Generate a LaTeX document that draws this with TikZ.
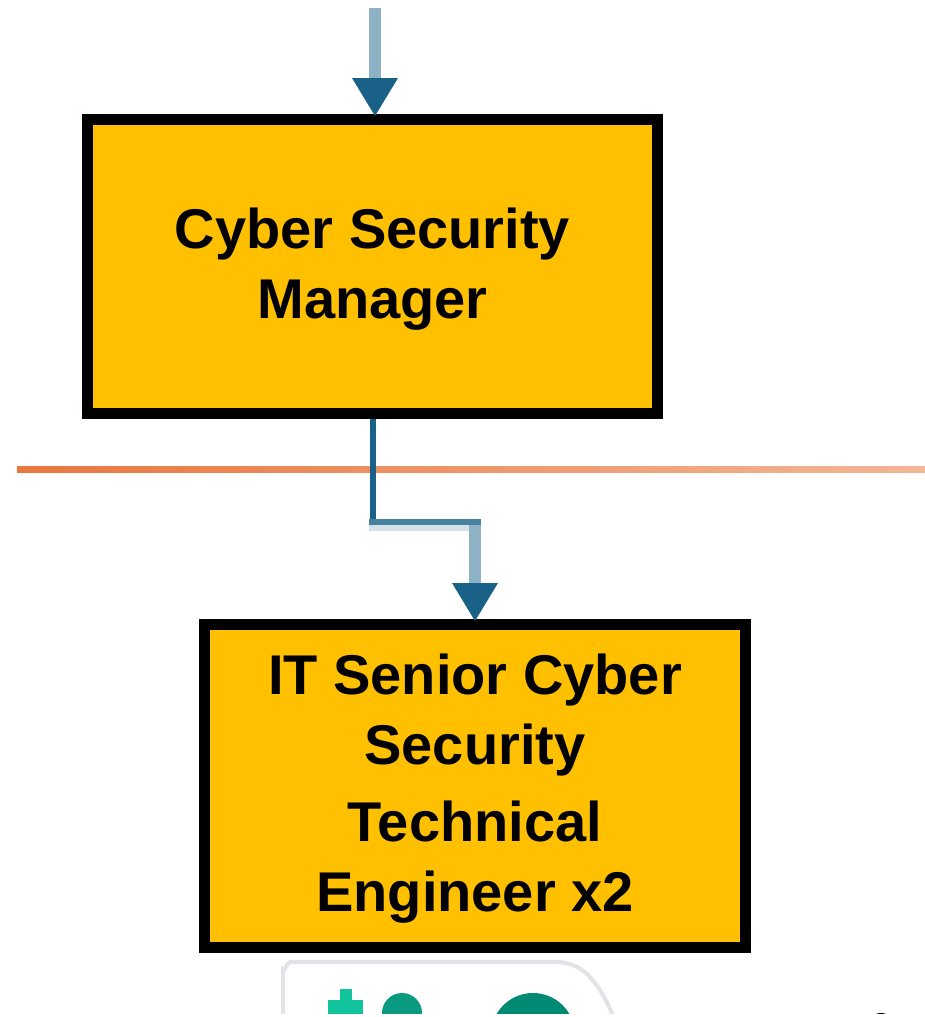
\documentclass[tikz,border=0pt]{standalone}
\usepackage{fontspec}
\setmainfont{Liberation Sans}
\usetikzlibrary{arrows.meta}
\definecolor{gold}{HTML}{FFC000}
\definecolor{darkblue}{HTML}{1A6188}
\definecolor{lightblue}{HTML}{8DB2C6}
\definecolor{midblue}{HTML}{4682A0}
\definecolor{shadowblue}{HTML}{D3E1E8}
\definecolor{orangeL}{HTML}{E9773E}
\definecolor{orangeR}{HTML}{F3B697}
\definecolor{uigray}{HTML}{E2E2E8}
\definecolor{tealA}{HTML}{12C49D}
\definecolor{tealB}{HTML}{0A9A80}
\definecolor{tealC}{HTML}{008A74}
\begin{document}
\begin{tikzpicture}[x=1pt,y=-1pt,
  rolebox/.style={draw=black, line width=11pt, fill=gold, inner sep=0pt},
  roletext/.style={font=\bfseries\fontsize{56}{70}\selectfont, anchor=base, inner sep=0pt},
  shaft/.style={draw=lightblue, line width=12pt},
  link/.style={draw=darkblue, line width=6pt},
  hlink/.style={draw=midblue, line width=6pt},
  tip/.style={-{Triangle[length=38pt, width=46pt, line width=0pt, color=darkblue]}},
  uiedge/.style={draw=uigray, line width=4pt}]
\useasboundingbox (0,0) rectangle (925,1017);
\fill[white] (0,0) rectangle (925,1017);

% boxes
\node[rolebox, minimum width=570pt, minimum height=294pt] (mgr) at (372.5,266.5) {};
\node[rolebox, minimum width=541pt, minimum height=323pt] (eng) at (475,786) {};

% texts
\node[roletext] (mgr1) at (372.5,248) {Cyber Security};
\node[roletext] (mgr2) at (372.5,318) {Manager};
\node[roletext] (eng1) at (475,694) {IT Senior Cyber};
\node[roletext] (eng2) at (475,764) {Security};
\node[roletext] (eng3) at (475,841) {Technical};
\node[roletext] (eng4) at (475,911) {Engineer x2};

% top incoming arrow
\coordinate (src) at (375,8);
\draw[shaft, tip] (src) -- ([yshift=-2pt]src |- mgr.north);

% orange separator line
\shade[left color=orangeL, right color=orangeR] (17,466) rectangle (925,472);

% elbow connector manager -> engineer
\coordinate (bend) at (475,522);
\draw[shadowblue, line width=6pt] (369,528) -- (469,528);
\draw[hlink] (369,522) -- (bend -| 481,0);
\draw[link] (mgr.south) -- ([yshift=3pt]mgr.south |- bend);
\draw[shaft, tip] ([yshift=-3pt]bend) -- ([yshift=-2pt]eng.north);

% partial UI strip at the bottom
\begin{scope}
\clip (0,0) rectangle (925,1013);
\draw[uiedge] (283,1020) -- (283,970) to[out=-90,in=180] (291,962) -- (556,962)
  .. controls (585,962) and (600,985) .. (615,1020);
\fill[tealA] (340,989) rectangle (352,1020);
\fill[tealA] (328,1000) rectangle (363,1020);
\fill[tealB] (402,1013) circle (20);
\fill[tealC] (533,1035) circle (42);
\fill[black] (881,1027) circle (14);
\end{scope}
\end{tikzpicture}
\end{document}
